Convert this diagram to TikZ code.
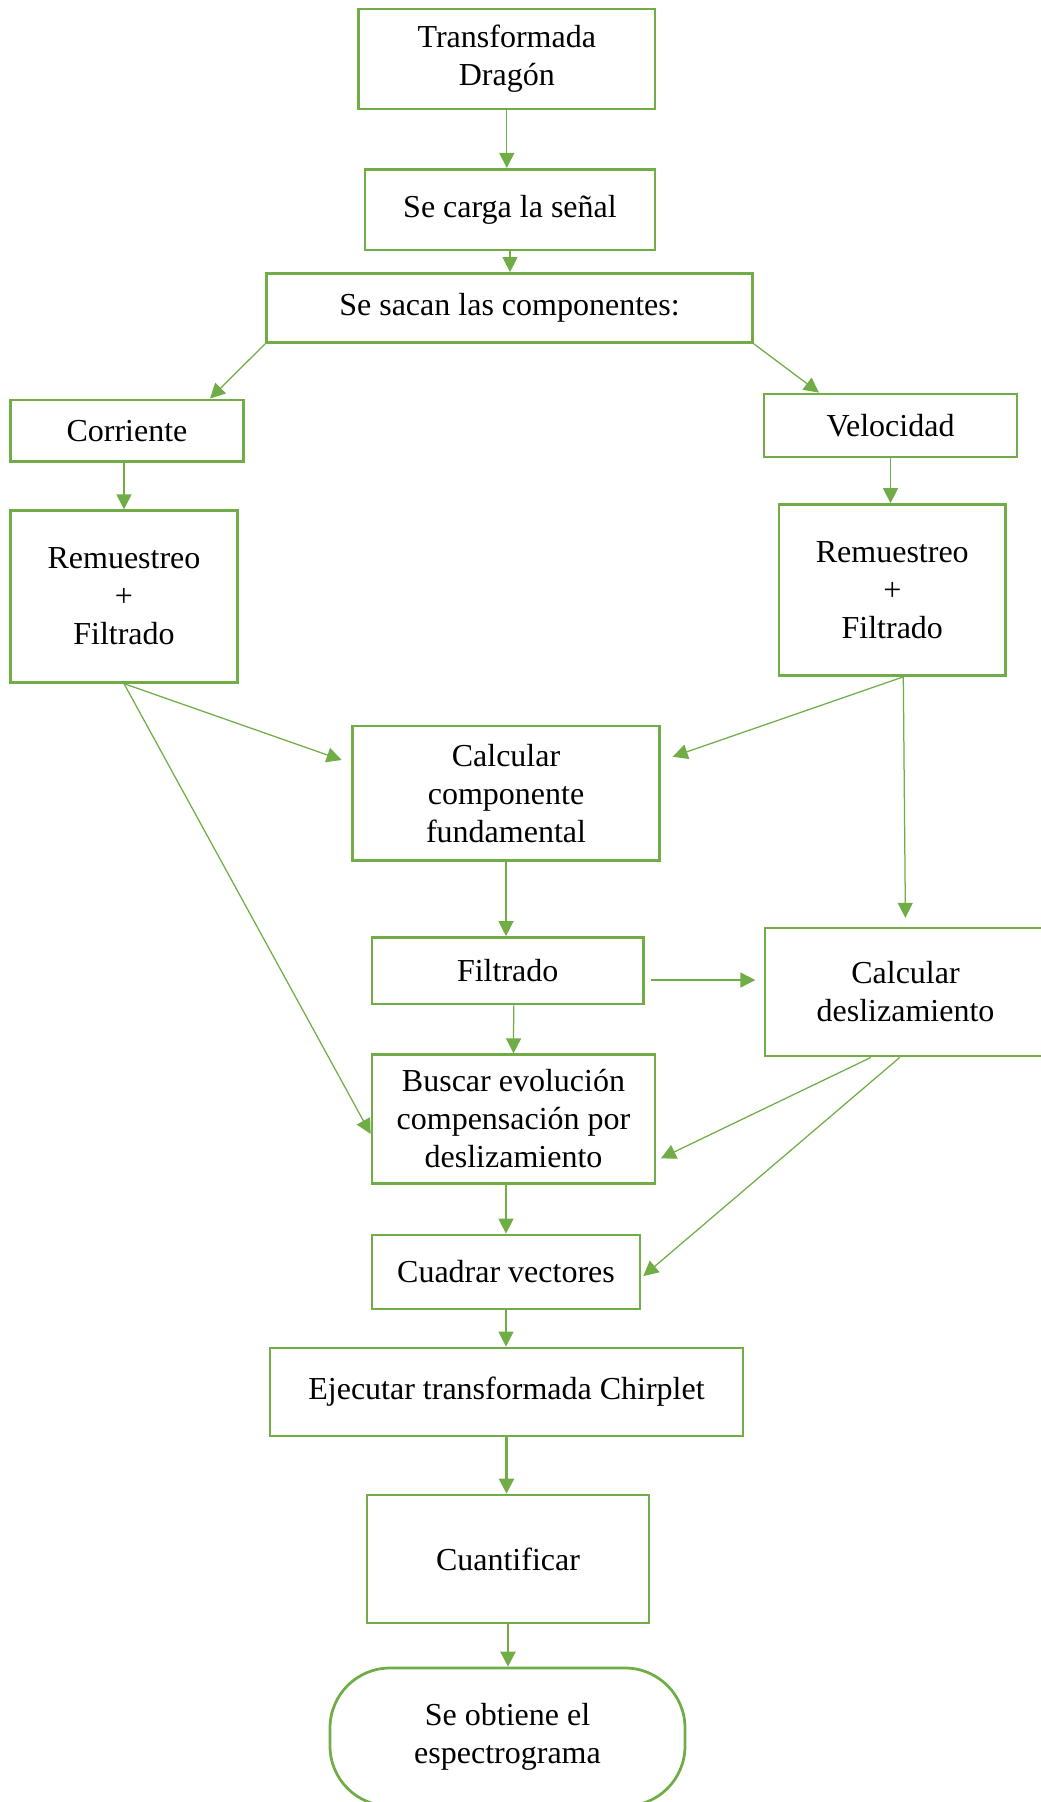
\documentclass[tikz,border=0pt]{standalone}
\usepackage{fontspec}
\setmainfont{Liberation Serif}
\usetikzlibrary{arrows.meta,calc,positioning}
\definecolor{flowgreen}{RGB}{112,173,71}

\tikzset{
  stepbox/.style={draw=flowgreen, line width=1.1pt, align=center, inner sep=2pt,
    font=\fontsize{12.8}{15.2}\selectfont},
  flow/.style={draw=flowgreen, line width=0.5pt, -{Triangle[length=6pt,width=6pt]}},
  flowthick/.style={flow, line width=1pt},
}

\begin{document}
\begin{tikzpicture}[x=0.4pt, y=-0.4pt]
% page frame (y runs downwards)
\useasboundingbox (0,0) rectangle (1041,1802);

% Top of the chain: load the signal and split it
\node[stepbox, minimum width=118.6pt, minimum height=40pt] (drag) at (506.8,59) {Transformada\\Dragón};
\node[stepbox, minimum width=116pt, minimum height=32.3pt] (carga) at (510,209.7) {Se carga la señal};
\node[stepbox, minimum width=194.4pt, minimum height=27.6pt] (sacan) at (509.5,308) {Se sacan las componentes:};

% Left branch: current
\node[stepbox, minimum width=93pt, minimum height=24.7pt] (corr) at (127,430.8) {Corriente};
\node[stepbox, minimum width=90.6pt, minimum height=68.6pt] (rmL) at (124,596.5) {Remuestreo\\+\\Filtrado};

% Right branch: speed
\node[stepbox, minimum width=101.2pt, minimum height=25.2pt] (velo) at (890.5,425.5) {Velocidad};
\node[stepbox, minimum width=90.7pt, minimum height=68.4pt] (rmR) at (892.3,590) {Remuestreo\\+\\Filtrado};

% Middle column
\node[stepbox, minimum width=122.8pt, minimum height=53.8pt] (comp) at (506,793.3) {Calcular\\componente\\fundamental};
\node[stepbox, minimum width=108.6pt, minimum height=26.6pt] (filt) at (507.7,970.8) {Filtrado};
\node[stepbox, minimum width=112.4pt, minimum height=51.2pt] (desl) at (905.5,992) {Calcular\\deslizamiento};
\node[stepbox, minimum width=113.2pt, minimum height=51.4pt] (busc) at (513.5,1119) {Buscar evolución\\compensación por\\deslizamiento};
\node[stepbox, minimum width=107.2pt, minimum height=29.6pt] (cuad) at (506,1272) {Cuadrar vectores};
\node[stepbox, minimum width=189.2pt, minimum height=35.2pt] (ejec) at (506.5,1392) {Ejecutar transformada Chirplet};
\node[stepbox, minimum width=112.8pt, minimum height=51.2pt] (cuant) at (508,1559) {Cuantificar};
\node[stepbox, minimum width=142pt, minimum height=55.2pt, rounded corners=24pt] (term) at (507.5,1737) {Se obtiene el\\espectrograma};

% Connectors
\draw[flow] (drag.south) -- (drag.south |- carga.north);
\draw[flow] (carga.south) -- (carga.south |- sacan.north);
\draw[flow] (sacan.south west) -- ([xshift=33.2pt]corr.north);
\draw[flow] (sacan.south east) -- ([xshift=-28.6pt]velo.north);
\draw[flow] (rmL.north |- corr.south) -- (rmL.north);
\draw[flow] (velo.south) -- (velo.south |- rmR.north);

% from the two filtered signals
\draw[flow, shorten >=4pt] (rmL.south) -- ([yshift=12pt]comp.west);
\draw[flow] (rmL.south) -- ([yshift=-6pt]busc.west);
\draw[flow, shorten >=5pt] ([xshift=4.4pt]rmR.south) -- ([yshift=13pt]comp.east);
\draw[flow, shorten >=3.5pt] ([xshift=4.4pt]rmR.south) -- (desl.north);

\draw[flow] (comp.south) -- (comp.south |- filt.north);
\draw[flow, shorten <=2.6pt, shorten >=3.3pt] ([yshift=-3.7pt]filt.east) -- ([yshift=-3.7pt]filt.east -| desl.west);
\draw[flow] ([xshift=2.4pt]filt.south) -- (busc.north);
\draw[flow, shorten >=2pt] ([xshift=-13.8pt]desl.south) -- ([yshift=-16.6pt]busc.east);
\draw[flow, shorten >=1pt] ([xshift=-2.3pt]desl.south) -- ([yshift=-2.3pt]cuad.east);
\draw[flow] (cuad.north |- busc.south) -- (cuad.north);
\draw[flow] (cuad.south) -- (cuad.south |- ejec.north);
\draw[flowthick] (ejec.south) -- (ejec.south |- cuant.north);
\draw[flowthick] (cuant.south) -- (cuant.south |- term.north);

\end{tikzpicture}
\end{document}
